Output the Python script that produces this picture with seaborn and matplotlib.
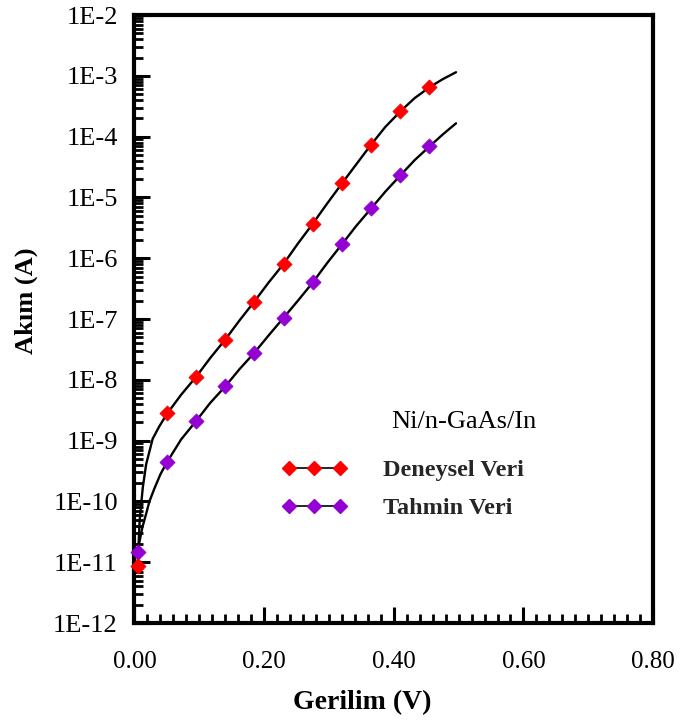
import matplotlib
matplotlib.use("Agg")
import matplotlib.pyplot as plt
import matplotlib.ticker as mticker
from matplotlib.lines import Line2D
import numpy as np
import seaborn as sns

# measured points (diamonds)
volt_pts = [0.005, 0.05, 0.095, 0.14, 0.185, 0.23, 0.275, 0.32, 0.365, 0.41, 0.455]
deneysel = [8.7e-12, 2.8e-9, 1.1e-8, 4.6e-8, 1.9e-7, 8.2e-7, 3.7e-6, 1.7e-5, 7.4e-5, 2.6e-4, 6.5e-4]
tahmin = [1.5e-11, 4.4e-10, 2.1e-9, 7.8e-9, 2.8e-8, 1.05e-7, 4.0e-7, 1.7e-6, 6.6e-6, 2.3e-5, 6.9e-5]

# fitted curves
fit_red_v = [0.005, 0.008, 0.0128, 0.018, 0.028, 0.038, 0.05, 0.072, 0.095, 0.117, 0.14,
             0.162, 0.185, 0.207, 0.23, 0.252, 0.275, 0.297, 0.32, 0.342, 0.365, 0.387,
             0.41, 0.432, 0.455, 0.476, 0.496]
fit_red_i = [1.0e-11, 5e-11, 1.7e-10, 4.1e-10, 1.07e-9, 1.7e-9, 2.75e-9, 5.7e-9, 1.12e-8,
             2.3e-8, 4.6e-8, 9.5e-8, 1.95e-7, 4.0e-7, 8.1e-7, 1.74e-6, 3.7e-6, 7.9e-6,
             1.7e-5, 3.5e-5, 7.4e-5, 1.45e-4, 2.6e-4, 4.3e-4, 6.5e-4, 8.9e-4, 1.15e-3]
fit_pur_v = [0.005, 0.007, 0.012, 0.018, 0.023, 0.031, 0.04, 0.05, 0.072, 0.095, 0.117,
             0.14, 0.162, 0.185, 0.207, 0.23, 0.252, 0.275, 0.297, 0.32, 0.342, 0.365,
             0.387, 0.41, 0.432, 0.455, 0.476, 0.496]
fit_pur_i = [1.5e-11, 2.0e-11, 3.7e-11, 6.3e-11, 1.0e-10, 1.66e-10, 2.8e-10, 4.4e-10,
             1.05e-9, 2.1e-9, 4.2e-9, 7.8e-9, 1.5e-8, 2.8e-8, 5.4e-8, 1.05e-7, 2.0e-7,
             4.0e-7, 8.3e-7, 1.7e-6, 3.4e-6, 6.6e-6, 1.25e-5, 2.3e-5, 4.1e-5, 6.9e-5,
             1.1e-4, 1.66e-4]

RED = '#ff0000'
PURPLE = '#9400d3'

sns.set_theme(style='white')
plt.rcParams['font.family'] = ['Liberation Serif', 'DejaVu Serif']

fig, ax = plt.subplots(figsize=(6.81, 7.2), dpi=100)
fig.subplots_adjust(left=0.1975, right=0.959, bottom=0.1347, top=0.979)

sns.lineplot(x=fit_red_v, y=fit_red_i, color='black', lw=1.7, sort=False,
             estimator=None, ax=ax, zorder=2)
sns.lineplot(x=fit_pur_v, y=fit_pur_i, color='black', lw=1.7, sort=False,
             estimator=None, ax=ax, zorder=2)
sns.scatterplot(x=volt_pts, y=tahmin, marker='D', s=60, color=PURPLE,
                edgecolor=PURPLE, linewidth=0.5, ax=ax, zorder=3, clip_on=False)
sns.scatterplot(x=volt_pts, y=deneysel, marker='D', s=60, color=RED,
                edgecolor=RED, linewidth=0.5, ax=ax, zorder=4, clip_on=False)

ax.set_yscale('log')
ax.set_xlim(0, 0.8)
ax.set_ylim(1e-12, 1e-2)

ax.xaxis.set_major_locator(mticker.MultipleLocator(0.2))
ax.xaxis.set_minor_locator(mticker.MultipleLocator(0.02))
ax.xaxis.set_major_formatter(mticker.FormatStrFormatter('%.2f'))
ax.yaxis.set_major_locator(mticker.LogLocator(base=10, numticks=20))
ax.yaxis.set_minor_locator(mticker.LogLocator(base=10, subs=np.arange(2, 10), numticks=20))
ax.yaxis.set_major_formatter(mticker.FuncFormatter(lambda v, _: f'1E{int(round(np.log10(v)))}'))
ax.yaxis.set_minor_formatter(mticker.NullFormatter())

ax.tick_params(which='major', direction='in', length=11.5, width=2.2, color='black',
               top=False, right=False, left=True, bottom=True)
ax.tick_params(which='minor', direction='in', length=6.5, width=2.0, color='black',
               top=False, right=False, left=True, bottom=True)
ax.tick_params(axis='x', which='major', labelsize=18, pad=20)
ax.tick_params(axis='y', which='major', labelsize=19, pad=12)
for lab in ax.get_xticklabels() + ax.get_yticklabels():
    lab.set_color('black')

for sp in ax.spines.values():
    sp.set_linewidth(3)
    sp.set_color('black')

ax.set_xlabel('Gerilim (V)', fontsize=20, fontweight='bold', color='black')
ax.set_ylabel('Akım (A)', fontsize=19, fontweight='bold', color='black')
ax.xaxis.set_label_coords(0.439, -0.110)
ax.yaxis.set_label_coords(-0.186, 0.53)

ax.text(0.636, 0.331, 'Ni/n-GaAs/In', transform=ax.transAxes, ha='center', va='center',
        fontsize=19, color='black')

handles = [
    Line2D([], [], color='black', lw=1.2, marker='D', markersize=7.5,
           markerfacecolor=RED, markeredgecolor=RED),
    Line2D([], [], color='black', lw=1.2, marker='D', markersize=7.5,
           markerfacecolor=PURPLE, markeredgecolor=PURPLE),
]
leg = ax.legend(handles, ['Deneysel Veri', 'Tahmin Veri'], loc='center left',
                bbox_to_anchor=(0.283, 0.22), frameon=False, numpoints=3,
                handlelength=2.7, handletextpad=1.5, labelspacing=0.65,
                borderpad=0, borderaxespad=0,
                prop={'size': 17.5, 'weight': 'bold'})

fig.savefig('out.png', dpi=100)
